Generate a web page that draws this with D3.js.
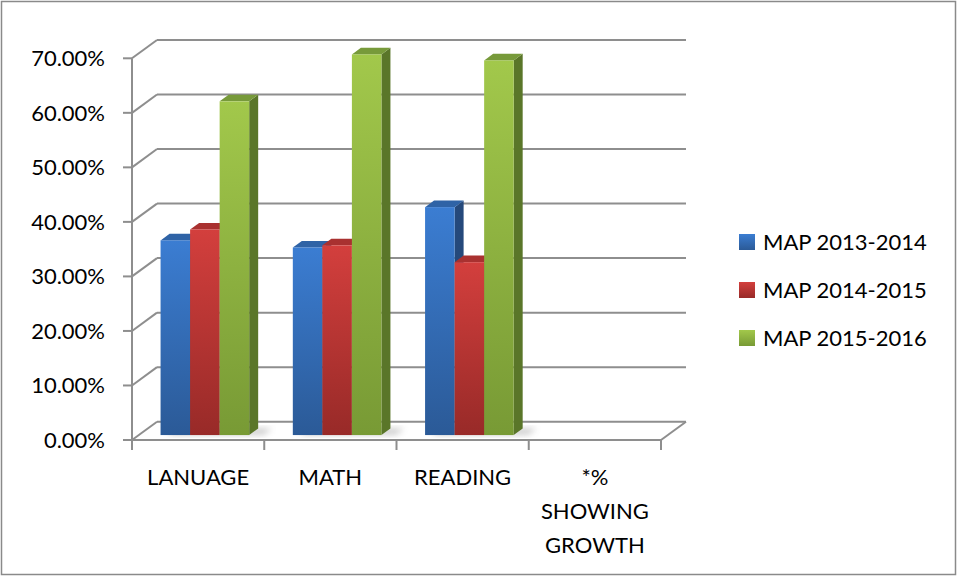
<!DOCTYPE html>
<html>
<head>
<meta charset="utf-8">
<script src="https://cdn.jsdelivr.net/npm/d3@7"></script>
<style>
  html, body { margin: 0; padding: 0; background: #fff; }
  #chart { width: 957px; height: 576px; }
  text { font-family: Lato, "Open Sans", sans-serif; fill: #000; }
</style>
</head>
<body>
<div id="chart"></div>
<script>
// Chart data
const categories = ["LANUAGE", "MATH", "READING", "*% SHOWING GROWTH"];
const seriesNames = ["MAP 2013-2014", "MAP 2014-2015", "MAP 2015-2016"];
const map1314 = [0.357, 0.344, 0.418, null];
const map1415 = [0.377, 0.348, 0.317, null];
const map1516 = [0.612, 0.698, 0.687, null];
const yTicks = [0, 0.1, 0.2, 0.3, 0.4, 0.5, 0.6, 0.7];

const width = 957, height = 576;
const svg = d3.select("#chart").append("svg")
    .attr("width", width)
    .attr("height", height);

// colours per series: front top / front bottom / top face / side face
const colors = [
    { light: "#3b7dd2", dark: "#2b5a97", top: "#2f63a6", side: "#25497b" },
    { light: "#d33f3d", dark: "#982a28", top: "#a93130", side: "#7b2221" },
    { light: "#a2c84b", dark: "#789a35", top: "#779a3a", side: "#5a7629" }
];

// outer frame
svg.append("rect")
    .attr("x", 1.5).attr("y", 1.5)
    .attr("width", width - 3).attr("height", height - 3)
    .attr("fill", "none")
    .attr("stroke", "#8a8a8a")
    .attr("stroke-width", 1.5);

// front plane scales, depth is added as a skew offset
const x = d3.scaleBand().domain(categories).range([132, 661]);
const y = d3.scaleLinear().domain([0, 0.7]).range([440, 58.3]);
const DX = 25, DY = -18.3;
const P = (px, py, d) => [px + d * DX, py + d * DY];

const defs = svg.append("defs");
colors.forEach((c, i) => {
    const lg = defs.append("linearGradient")
        .attr("id", "grad" + i)
        .attr("x1", 0).attr("y1", 0).attr("x2", 0).attr("y2", 1);
    lg.append("stop").attr("offset", "0%").attr("stop-color", c.light);
    lg.append("stop").attr("offset", "100%").attr("stop-color", c.dark);
});
defs.append("filter").attr("id", "blur")
    .attr("x", "-50%").attr("y", "-50%").attr("width", "200%").attr("height", "200%")
    .append("feGaussianBlur").attr("stdDeviation", 3);

const gridColor = "#8e8e8e";
const grid = svg.append("g")
    .attr("stroke", gridColor)
    .attr("stroke-width", 2)
    .attr("fill", "none");

// back wall gridlines + left wall diagonals
yTicks.forEach(t => {
    const a = P(x.range()[0], y(t), 1), b = P(x.range()[1], y(t), 1);
    grid.append("line").attr("x1", a[0]).attr("y1", a[1]).attr("x2", b[0]).attr("y2", b[1]);
    grid.append("line").attr("x1", x.range()[0]).attr("y1", y(t)).attr("x2", a[0]).attr("y2", a[1]);
    grid.append("line").attr("x1", x.range()[0] - 9).attr("y1", y(t)).attr("x2", x.range()[0]).attr("y2", y(t));
});

// floor: front edge and right diagonal
const fr = P(x.range()[1], y(0), 1);
grid.append("line").attr("x1", x.range()[0]).attr("y1", y(0)).attr("x2", x.range()[1]).attr("y2", y(0));
grid.append("line").attr("x1", x.range()[1]).attr("y1", y(0)).attr("x2", fr[0]).attr("y2", fr[1]);
// vertical axis
grid.append("line").attr("x1", x.range()[0]).attr("y1", y(0.7)).attr("x2", x.range()[0]).attr("y2", y(0));
// category ticks
const catEdges = categories.map(c => x(c)).concat([x.range()[1]]);
catEdges.forEach(cx => {
    grid.append("line").attr("x1", cx).attr("y1", y(0)).attr("x2", cx).attr("y2", y(0) + 10);
});

// y tick labels
svg.append("g").selectAll("text")
    .data(yTicks)
    .join("text")
    .attr("x", 105)
    .attr("y", d => y(d) + 8)
    .attr("text-anchor", "end")
    .attr("font-size", 22)
    .text(d => d3.format(".2%")(d));

// bars
const allSeries = [map1314, map1415, map1516];
const groupFrac = 0.67;
const bw = x.bandwidth() * groupFrac / allSeries.length;
const d0 = 0.27, d1 = 0.63;
const poly = pts => pts.map(p => p.join(",")).join(" ");

const bars = svg.append("g");
categories.forEach((cat, ci) => {
    const gx = x(cat) + (x.bandwidth() * (1 - groupFrac)) / 2;
    // floor shadow of the group
    if (allSeries.some(s => s[ci] != null)) {
        const s0 = P(gx + 6, y(0), d0 + 0.02), s1 = P(gx + bw * 3 + 14, y(0), d0 + 0.02);
        const s2 = P(gx + bw * 3 + 14, y(0), d1), s3 = P(gx + 6, y(0), d1);
        bars.append("polygon")
            .attr("points", poly([s0, s1, s2, s3]))
            .attr("fill", "#8a8a8a")
            .attr("opacity", 0.45)
            .attr("filter", "url(#blur)");
    }
    allSeries.forEach((s, si) => {
        const v = s[ci];
        if (v == null) return;
        const x0 = gx + si * bw, x1 = x0 + bw;
        const yv = y(v), y0 = y(0);
        const c = colors[si];
        bars.append("polygon")
            .attr("points", poly([P(x1, yv, d0), P(x1, yv, d1), P(x1, y0, d1), P(x1, y0, d0)]))
            .attr("fill", c.side);
        bars.append("polygon")
            .attr("points", poly([P(x0, yv, d0), P(x1, yv, d0), P(x1, yv, d1), P(x0, yv, d1)]))
            .attr("fill", c.top);
        const f = P(x0, yv, d0);
        bars.append("rect")
            .attr("x", f[0]).attr("y", f[1])
            .attr("width", bw).attr("height", y0 - yv)
            .attr("fill", `url(#grad${si})`);
    });
});

// category labels (wrapped on spaces for the long one)
categories.forEach(cat => {
    const cx = x(cat) + x.bandwidth() / 2;
    const words = cat.length > 10 ? cat.split(" ") : [cat];
    const t = svg.append("text")
        .attr("text-anchor", "middle")
        .attr("font-size", 22);
    words.forEach((w, i) => {
        t.append("tspan").attr("x", cx).attr("y", 485 + i * 34).text(w);
    });
});

// legend
const legend = svg.append("g").attr("transform", "translate(739,234)");
seriesNames.forEach((name, i) => {
    const row = legend.append("g").attr("transform", `translate(0,${i * 48})`);
    row.append("rect").attr("width", 16).attr("height", 16)
        .attr("fill", `url(#grad${i})`);
    row.append("text").attr("x", 24).attr("y", 16)
        .attr("font-size", 22)
        .text(name);
});
</script>
</body>
</html>
